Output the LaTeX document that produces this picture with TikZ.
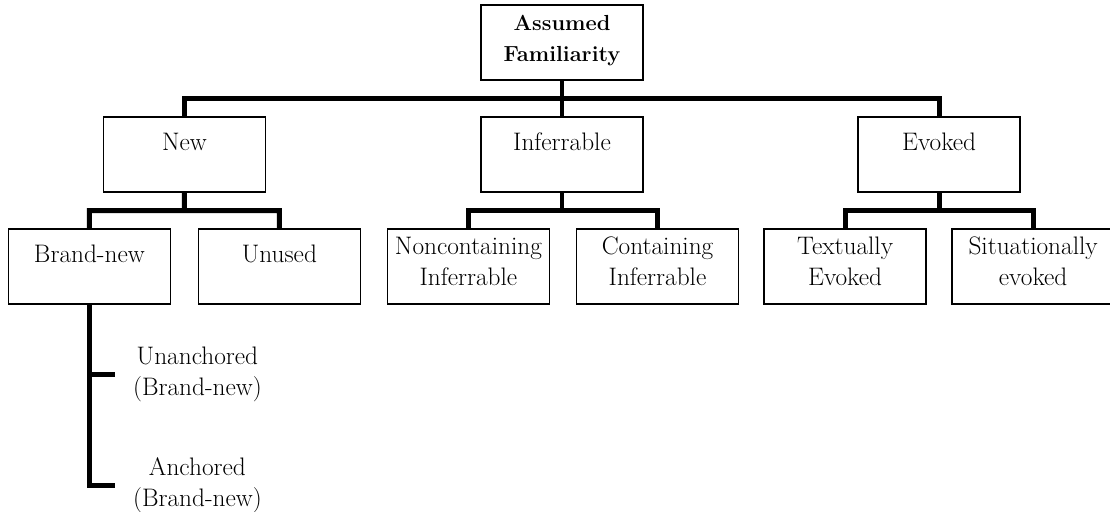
\documentclass[tikz,border=0pt]{standalone}
\usepackage{tikz}
\usetikzlibrary{positioning, calc}

\tikzset{
  famnode/.style={draw, rectangle, line width=1.1pt, minimum width=4.05cm, minimum height=1.875cm,
                  inner sep=0pt, align=center, font=\fontsize{18}{22}\selectfont},
  onerow/.style={text height=0.825cm, text depth=1.05cm},
  tworow/.style={text height=1.4cm, text depth=0.475cm},
  subtype/.style={align=center, inner ysep=0pt, inner xsep=0.45cm, font=\fontsize{18}{22}\selectfont},
  branch/.style={line width=3.5pt}
}

\begin{document}
\begin{tikzpicture}[x=0.025cm, y=0.025cm, node distance=2.8cm, on grid]
        \useasboundingbox (0,0) rectangle (1110,-512);

        \node[famnode, tworow, font=\fontsize{15.5}{21.5}\selectfont\bfseries]
                               (af)  at (562,-42.5)                       {Assumed\\Familiarity};
        \node[famnode, onerow] (inf) [below=of af]                        {Inferrable};
        \node[famnode, onerow] (new) [left=9.4375cm of inf]               {New};
        \node[famnode, onerow] (evo) [right=9.425cm of inf]               {Evoked};

        \node[famnode, onerow] (bn)  [below left=2.8cm and 2.375cm of new]    {Brand-new};
        \node[famnode, onerow] (un)  [below right=2.8cm and 2.375cm of new]   {Unused};
        \node[famnode, tworow] (nc)  [below left=2.8cm and 2.3375cm of inf]   {Noncontaining\\Inferrable};
        \node[famnode, tworow] (ci)  [below right=2.8cm and 2.3875cm of inf]  {Containing\\Inferrable};
        \node[famnode, tworow] (te)  [below left=2.8cm and 2.35cm of evo]     {Textually\\Evoked};
        \node[famnode, tworow] (se)  [below right=2.8cm and 2.35cm of evo]    {Situationally\\evoked};

        \node[subtype]         (ua)  [below right=2.7cm and 2.7cm of bn]      {Unanchored\\(Brand-new)};
        \node[subtype]         (an)  [below=2.775cm of ua]                    {Anchored\\(Brand-new)};

        \foreach \p/\a/\b in {af/new/evo, new/bn/un, inf/nc/ci, evo/te/se}
          \draw[branch] (\p.south) -- ($(\p.south)!.5!(\p.south |- \a.north)$) coordinate (\p-mid)
                        (\a.north) |- (\p-mid) -| (\b.north);
        \draw[branch] (af-mid) -- (inf.north);

        \draw[branch] (bn.south) |- (an.west);
        \draw[branch] (bn.south |- ua.west) -- (ua.west);
\end{tikzpicture}
\end{document}
